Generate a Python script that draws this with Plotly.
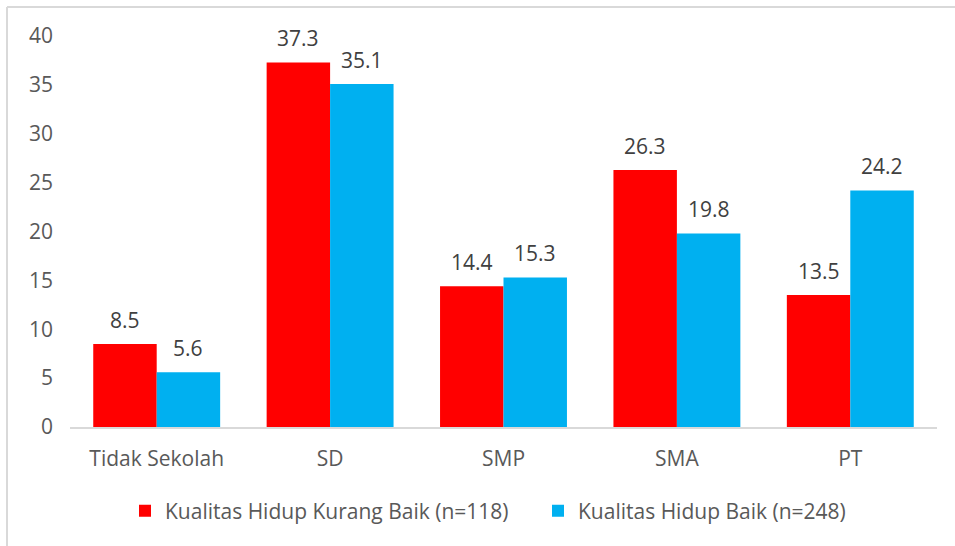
import plotly.graph_objects as go

categories = ["Tidak Sekolah", "SD", "SMP", "SMA", "PT"]
kurang_baik = [8.5, 37.3, 14.4, 26.3, 13.5]
baik = [5.6, 35.1, 15.3, 19.8, 24.2]
series_names = ["Kualitas Hidup Kurang Baik (n=118)", "Kualitas Hidup Baik (n=248)"]
y_ticks = [0, 5, 10, 15, 20, 25, 30, 35, 40]

W, H = 955, 546
L, R, T, B = 70, 18, 36, 119
pw, ph = W - L - R, H - T - B
BARGAP = 0.268
bar_px = pw / len(categories) * (1 - BARGAP) / 2

def px_x(x):
    return (x - L) / pw

def px_y(y):
    return (H - B - y) / ph

font = "Open Sans"
FS = 21
fig = go.Figure()
fig.add_trace(go.Bar(
    x=categories, y=kurang_baik, name=series_names[0],
    marker=dict(color="#FF0000", line=dict(width=0)), legend="legend",
))
fig.add_trace(go.Bar(
    x=categories, y=baik, name=series_names[1],
    marker=dict(color="#00B0F0", line=dict(width=0)), legend="legend2",
))

annotations = []
for vals, shift in ((kurang_baik, -bar_px / 2), (baik, bar_px / 2)):
    for c, v in zip(categories, vals):
        annotations.append(dict(
            x=c, y=v, xref="x", yref="y", text=f"{v:.1f}", showarrow=False,
            xshift=shift, yshift=24, yanchor="middle", xanchor="center",
            font=dict(family=font, size=FS, color="#404040"),
        ))

legend_common = dict(orientation="h", xanchor="left", yanchor="middle",
                     y=px_y(511), font=dict(family=font, size=FS, color="#595959"),
                     itemwidth=30, bgcolor="rgba(0,0,0,0)")

fig.update_layout(
    width=W, height=H,
    margin=dict(l=L, r=R, t=T, b=B, autoexpand=False),
    paper_bgcolor="white", plot_bgcolor="white",
    barmode="group", bargap=BARGAP, bargroupgap=0,
    font=dict(family=font, size=FS, color="#595959"),
    showlegend=True,
    legend=dict(x=px_x(125), **legend_common),
    legend2=dict(x=px_x(538), **legend_common),
    xaxis=dict(showgrid=False, showline=True, linecolor="#d9d9d9", linewidth=1.5,
               ticks="", ticklabelstandoff=12, tickfont=dict(size=FS, color="#595959")),
    yaxis=dict(range=[0, 40], tickvals=y_ticks, showgrid=False, zeroline=False,
               showline=False, ticks="", ticklabelstandoff=16,
               tickfont=dict(size=FS, color="#595959")),
    annotations=annotations,
    shapes=[
        dict(type="line", xref="paper", yref="paper", x0=px_x(7), x1=px_x(W + 5),
             y0=px_y(7), y1=px_y(7), line=dict(color="#d9d9d9", width=2)),
        dict(type="line", xref="paper", yref="paper", x0=px_x(7), x1=px_x(7),
             y0=px_y(7), y1=px_y(H + 5), line=dict(color="#d9d9d9", width=2)),
    ],
)

fig.write_html("out.html", config={"displayModeBar": False},
               post_script="document.body.style.margin='0';")
